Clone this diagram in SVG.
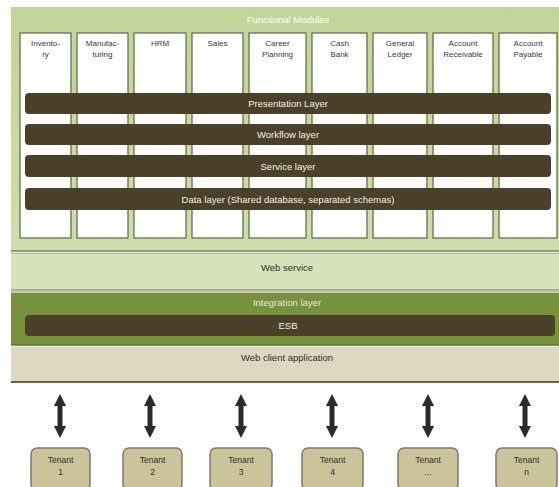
<svg xmlns="http://www.w3.org/2000/svg" width="559" height="487" viewBox="0 0 559 487">
  <defs>
    <linearGradient id="panelFill" x1="0" y1="0" x2="0" y2="1">
      <stop offset="0" stop-color="#c0d598"/>
      <stop offset="1" stop-color="#cddfac"/>
    </linearGradient>
    <marker id="head" viewBox="0 0 10 10" refX="5" refY="5" markerWidth="3" markerHeight="2.4" orient="auto-start-reverse" markerUnits="strokeWidth">
      <path d="M0,0 L10,5 L0,10 z" fill="#2b2b2b"/>
    </marker>
  </defs>
  <style>
    text { font-family: "Liberation Sans", Arial, sans-serif; text-anchor: middle; }
    .mod rect { fill: #ffffff; stroke: #66704f; stroke-width: 1.3; }
    .mod text { font-size: 8px; fill: #3a3a3a; }
    .bar rect { fill: #4a4128; }
    .bar text { font-size: 9.5px; fill: #f2f0e6; }
    .tenant rect { fill: #cbc39a; stroke: #7c7a6c; stroke-width: 1.5; }
    .tenant text { font-size: 8.5px; fill: #2e2e2e; }
    .link { stroke: #2b2b2b; stroke-width: 5; marker-start: url(#head); marker-end: url(#head); }
  </style>

  <rect width="559" height="487" fill="#ffffff"/>

  <!-- functional modules panel -->
  <g id="functional-modules">
    <rect x="11" y="7" width="550" height="244" fill="url(#panelFill)"/>
    <line x1="11" y1="251" x2="559" y2="251" stroke="#6e8a3c" stroke-width="1.5"/>
    <text x="288" y="23" font-size="9.5" fill="#ffffff">Functional Modules</text>
  </g>

  <g id="mod-inventory" class="mod">
    <rect x="20" y="33" width="51" height="205"/>
    <text x="45.5" y="46">Invento-</text><text x="45.5" y="57">ry</text>
  </g>
  <g id="mod-manufacturing" class="mod">
    <rect x="77" y="33" width="51" height="205"/>
    <text x="102.5" y="46">Manufac-</text><text x="102.5" y="57">turing</text>
  </g>
  <g id="mod-hrm" class="mod">
    <rect x="134" y="33" width="52" height="205"/>
    <text x="160" y="46">HRM</text>
  </g>
  <g id="mod-sales" class="mod">
    <rect x="192" y="33" width="51" height="205"/>
    <text x="217.5" y="46">Sales</text>
  </g>
  <g id="mod-career" class="mod">
    <rect x="249" y="33" width="57" height="205"/>
    <text x="277.5" y="46">Career</text><text x="277.5" y="57">Planning</text>
  </g>
  <g id="mod-cash" class="mod">
    <rect x="312" y="33" width="55" height="205"/>
    <text x="339.5" y="46">Cash</text><text x="339.5" y="57">Bank</text>
  </g>
  <g id="mod-ledger" class="mod">
    <rect x="373" y="33" width="54" height="205"/>
    <text x="400" y="46">General</text><text x="400" y="57">Ledger</text>
  </g>
  <g id="mod-receivable" class="mod">
    <rect x="433" y="33" width="60" height="205"/>
    <text x="463" y="46">Account</text><text x="463" y="57">Receivable</text>
  </g>
  <g id="mod-payable" class="mod">
    <rect x="499" y="33" width="58" height="205"/>
    <text x="528" y="46">Account</text><text x="528" y="57">Payable</text>
  </g>

  <!-- horizontal layers across the modules -->
  <g id="layer-presentation" class="bar">
    <rect x="25" y="93" width="526" height="21" rx="4"/>
    <text x="288" y="107">Presentation Layer</text>
  </g>
  <g id="layer-workflow" class="bar">
    <rect x="25" y="124" width="526" height="21" rx="4"/>
    <text x="288" y="138">Workflow layer</text>
  </g>
  <g id="layer-service" class="bar">
    <rect x="25" y="155" width="526" height="22" rx="4"/>
    <text x="288" y="169.5">Service layer</text>
  </g>
  <g id="layer-data" class="bar">
    <rect x="25" y="188" width="526" height="22" rx="4"/>
    <text x="288" y="202.5">Data layer (Shared database, separated schemas)</text>
  </g>

  <!-- web service band -->
  <g id="web-service">
    <line x1="11" y1="253.5" x2="559" y2="253.5" stroke="#a9aba2" stroke-width="1.5"/>
    <rect x="11" y="254.5" width="550" height="35" fill="#d6e3bb"/>
    <line x1="11" y1="290" x2="559" y2="290" stroke="#5e6f3a" stroke-width="1.2"/>
    <line x1="11" y1="292" x2="559" y2="292" stroke="#b3b5ab" stroke-width="1.5"/>
    <text x="287" y="271" font-size="9.5" fill="#2e2e2e">Web service</text>
  </g>

  <!-- integration layer with ESB -->
  <g id="integration-layer">
    <rect x="11" y="293" width="550" height="52" fill="#77923d"/>
    <line x1="11" y1="345" x2="559" y2="345" stroke="#5c7230" stroke-width="1.5"/>
    <text x="287" y="306" font-size="9.5" fill="#e3ebd2">Integration layer</text>
  </g>
  <g id="esb" class="bar">
    <rect x="25" y="315" width="530" height="21" rx="4"/>
    <text x="288" y="329">ESB</text>
  </g>

  <!-- web client application band -->
  <g id="web-client">
    <rect x="11" y="346.5" width="550" height="35" fill="#ddd8c2"/>
    <line x1="11" y1="382" x2="559" y2="382" stroke="#5f6a3a" stroke-width="2"/>
    <text x="287" y="361" font-size="9.5" fill="#2e2e2e">Web client application</text>
  </g>

  <!-- tenant connections -->
  <g id="connectors">
    <line class="link" x1="60" y1="400" x2="60" y2="432"/>
    <line class="link" x1="150" y1="400" x2="150" y2="432"/>
    <line class="link" x1="241" y1="400" x2="241" y2="432"/>
    <line class="link" x1="332" y1="400" x2="332" y2="432"/>
    <line class="link" x1="428" y1="400" x2="428" y2="432"/>
    <line class="link" x1="525" y1="400" x2="525" y2="432"/>
  </g>

  <!-- tenants -->
  <g id="tenant-1" class="tenant">
    <rect x="31" y="448" width="59" height="42" rx="6"/>
    <text x="60.5" y="463">Tenant</text><text x="60.5" y="475">1</text>
  </g>
  <g id="tenant-2" class="tenant">
    <rect x="123" y="448" width="59" height="42" rx="6"/>
    <text x="152.5" y="463">Tenant</text><text x="152.5" y="475">2</text>
  </g>
  <g id="tenant-3" class="tenant">
    <rect x="210" y="448" width="62" height="42" rx="6"/>
    <text x="241" y="463">Tenant</text><text x="241" y="475">3</text>
  </g>
  <g id="tenant-4" class="tenant">
    <rect x="302" y="448" width="61" height="42" rx="6"/>
    <text x="332.5" y="463">Tenant</text><text x="332.5" y="475">4</text>
  </g>
  <g id="tenant-etc" class="tenant">
    <rect x="398" y="448" width="60" height="42" rx="6"/>
    <text x="428" y="463">Tenant</text><text x="428" y="475">...</text>
  </g>
  <g id="tenant-n" class="tenant">
    <rect x="496" y="448" width="61" height="42" rx="6"/>
    <text x="526.5" y="463">Tenant</text><text x="526.5" y="475">n</text>
  </g>
</svg>
